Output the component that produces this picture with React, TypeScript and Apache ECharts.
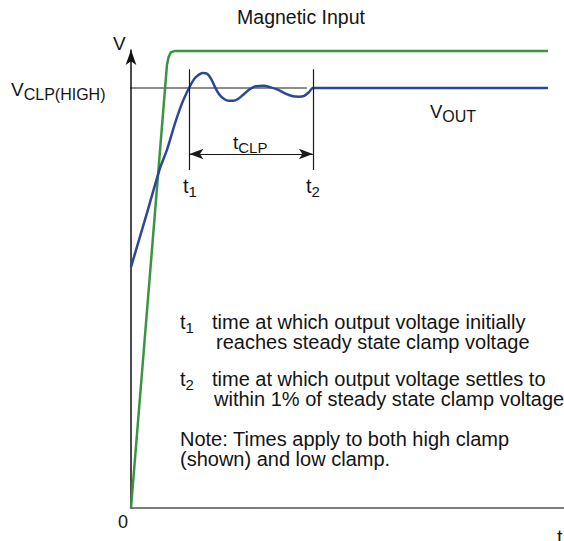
import React, { useEffect, useRef } from "react";
import * as echarts from "echarts";

// ---- data (arbitrary units: time 0..100, voltage 0..100) ----
const greenT = [0, 8.3, 8.7, 9.2, 10.2, 11.3, 96.3];
const greenV = [0, 96.7, 98.5, 99.5, 99.8, 99.8, 99.8];

const blueT = [0, 3.9, 6.7, 8.3, 10.2, 11.8, 13.4, 14.6, 15.5, 16.6, 17.6, 18.5, 19.4, 20.3, 21.5, 22.6, 23.6, 24.7, 26.1, 27.5, 28.9, 30.5, 32.1, 34.0, 35.8, 37.4, 38.8, 40.0, 41.1, 42.0, 43.6, 96.3];
const blueV = [52.6, 65.1, 74.2, 78.2, 84.1, 88.4, 91.7, 93.7, 94.5, 95.0, 94.8, 93.7, 91.9, 90.4, 89.3, 88.9, 88.9, 89.3, 90.4, 91.5, 92.1, 92.2, 91.9, 91.3, 90.4, 89.9, 89.8, 90.0, 90.8, 91.7, 91.7, 91.7];

const vclpLevel = 91.7;
const vclpSpan = [-4.2, 40.6];
const t1 = 13.5;
const t2 = 42.0;
const markerSpan = [95.8, 73.8];
const dimLevel = 77.3;

const noteT1 = ["time at which output voltage initially", "reaches steady state clamp voltage"];
const noteT2 = ["time at which output voltage settles to", "within 1% of steady state clamp voltage"];
const noteGeneral = ["Note: Times apply to both high clamp", "(shown) and low clamp."];

const FONT = "'Liberation Sans', Arial, Helvetica, sans-serif";
const INK = "#141414";

function zip(a: number[], b: number[]) {
  return a.map((x, i) => [x, b[i]]);
}

function txt(x: number, y: number, text: string, size: number, align = "left") {
  return {
    type: "text",
    x,
    y,
    silent: true,
    style: {
      text,
      fontSize: size,
      fontFamily: FONT,
      fill: INK,
      align,
      textAlign: align,
      verticalAlign: "middle",
      textVerticalAlign: "middle",
    },
  };
}

// two-line paragraph as one text element; second line indented by `indent` px
function para(x: number, y: number, lines: string[], size: number, lh: number, indent: number) {
  return {
    type: "text",
    x,
    y,
    silent: true,
    style: {
      text: `{a|${lines[0]}}\n{b|${lines[1]}}`,
      fontFamily: FONT,
      fontSize: size,
      fill: INK,
      align: "left",
      textAlign: "left",
      verticalAlign: "middle",
      textVerticalAlign: "middle",
      rich: {
        a: { fontSize: size, fontFamily: FONT, fill: INK, lineHeight: lh },
        b: { fontSize: size, fontFamily: FONT, fill: INK, lineHeight: lh, padding: [0, 0, 0, indent] },
      },
    },
  };
}

function sub(x: number, y: number, main: string, s: string, size: number, subSize: number, pad: number, align = "left") {
  return {
    type: "text",
    x,
    y,
    silent: true,
    style: {
      text: `{a|${main}}{b|${s}}`,
      fontFamily: FONT,
      fill: INK,
      align,
      textAlign: align,
      verticalAlign: "middle",
      textVerticalAlign: "middle",
      rich: {
        a: { fontSize: size, fontFamily: FONT, fill: INK, lineHeight: size },
        b: { fontSize: subSize, fontFamily: FONT, fill: INK, lineHeight: subSize, padding: [pad, 0, 0, 0] },
      },
    },
  };
}

export default function App() {
  const ref = useRef<HTMLDivElement>(null);
  useEffect(() => {
    const chart = echarts.init(ref.current!, null, { renderer: "svg" });
    const option: any = {
      animation: false,
      backgroundColor: "#ffffff",
      grid: { left: 131, top: 50, width: 433, height: 458 },
      xAxis: {
        type: "value",
        min: 0,
        max: 100,
        axisLine: { show: true, onZero: false, lineStyle: { color: "#505050", width: 1.5 } },
        axisTick: { show: false },
        axisLabel: { show: false },
        splitLine: { show: false },
      },
      yAxis: {
        type: "value",
        min: 0,
        max: 100,
        axisLine: {
          show: true,
          onZero: false,
          symbol: ["none", "arrow"],
          symbolSize: [8, 15],
          lineStyle: { color: "#111111", width: 1.5 },
        },
        axisTick: { show: false },
        axisLabel: { show: false },
        splitLine: { show: false },
      },
      series: [
        {
          name: "Magnetic Input",
          type: "line",
          data: zip(greenT, greenV),
          symbol: "none",
          clip: false,
          z: 3,
          lineStyle: { color: "#3b9443", width: 2.5, join: "round" },
        },
        {
          name: "VOUT",
          type: "line",
          data: zip(blueT, blueV),
          symbol: "none",
          smooth: 0.3,
          clip: false,
          z: 4,
          lineStyle: { color: "#2c4795", width: 2.5 },
        },
        {
          name: "VCLP",
          type: "line",
          data: vclpSpan.map((t) => [t, vclpLevel]),
          symbol: "none",
          clip: false,
          z: 2,
          lineStyle: { color: "#1a1a1a", width: 1.2 },
          markLine: {
            silent: true,
            symbol: "none",
            label: { show: false },
            lineStyle: { color: "#1a1a1a", width: 1.2, type: "solid" },
            data: [
              [{ coord: [t1, markerSpan[0]] }, { coord: [t1, markerSpan[1]] }],
              [{ coord: [t2, markerSpan[0]] }, { coord: [t2, markerSpan[1]] }],
            ],
          },
        },
        {
          name: "tCLP",
          type: "line",
          data: [],
          symbol: "none",
          markLine: {
            silent: true,
            symbol: ["arrow", "arrow"],
            symbolSize: [14, 14],
            label: { show: false },
            lineStyle: { color: "#1a1a1a", width: 1.2, type: "solid" },
            data: [
              [
                { coord: [t1, dimLevel], symbol: "arrow", symbolSize: [8, 14] },
                { coord: [t2, dimLevel], symbol: "arrow", symbolSize: [8, 14] },
              ],
            ],
          },
        },
      ],
      graphic: [
        txt(301, 17, "Magnetic Input", 19.5, "center"),
        txt(113, 43, "V", 19),
        txt(123, 522, "0", 18, "center"),
        txt(557, 537, "t", 20),
        sub(11, 89, "V", "CLP(HIGH)", 19, 16, 10),
        sub(430, 111, "V", "OUT", 18.5, 16, 10),
        sub(233, 142, "t", "CLP", 19, 15, 10),
        sub(183, 186, "t", "1", 20, 15, 11),
        sub(306, 186, "t", "2", 20, 15, 11),
        sub(180, 322, "t", "1", 20, 15, 11),
        para(212, 332, noteT1, 20, 20, 4),
        sub(180, 379, "t", "2", 20, 15, 11),
        para(212, 389, noteT2, 20, 20, 2),
        para(180, 449, noteGeneral, 20, 20, 0),
      ],
    };
    chart.setOption(option);
    return () => chart.dispose();
  }, []);
  return (
    <div
      ref={ref}
      style={{ position: "fixed", left: 0, top: 0, width: 564, height: 541, background: "#ffffff" }}
    />
  );
}
